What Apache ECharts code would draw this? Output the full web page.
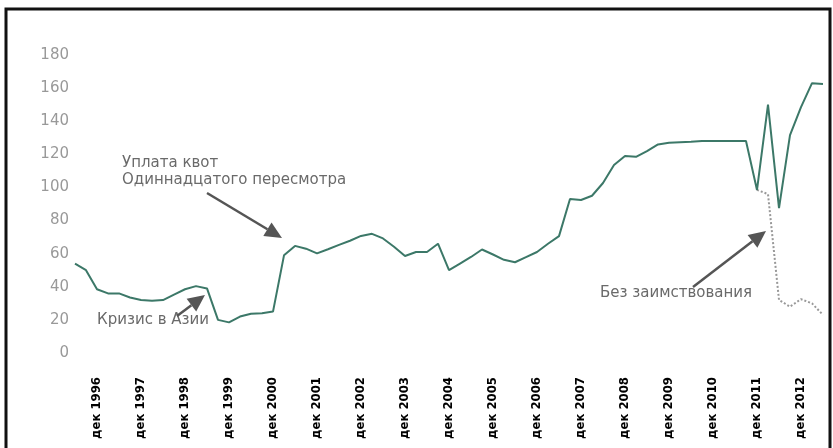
<!DOCTYPE html>
<html>
<head>
<meta charset="utf-8">
<script src="https://cdn.jsdelivr.net/npm/echarts@6/dist/echarts.min.js"></script>
<style>
  html, body { margin: 0; padding: 0; background: #fff; }
  #chart { width: 833px; height: 448px; }
</style>
</head>
<body>
<div id="chart"></div>
<script>
// Quarterly categories from June 1996 to June 2013
var years = [1996,1997,1998,1999,2000,2001,2002,2003,2004,2005,2006,2007,2008,2009,2010,2011,2012,2013];
var monthNames = ['мар','июн','сен','дек'];
var categories = [];
years.forEach(function (y) {
  monthNames.forEach(function (m, qi) {
    if (y === 1996 && qi < 1) return;
    if (y === 2013 && qi > 1) return;
    categories.push(m + ' ' + y);
  });
});

// Main series
var mainValues = [
  54, 50, 38.5,
  36, 36, 33.5, 32,
  31.5, 32, 35.3, 38.5,
  40.4, 39, 20, 18.5,
  22, 23.7, 24, 25,
  59, 64.7, 63, 60.2,
  62.7, 65.3, 67.8, 70.7,
  72, 69.2, 64.2, 58.6,
  61, 61, 66, 50,
  54, 58, 62.5, 59.5,
  56.3, 54.8, 57.9, 61,
  66, 70.6, 93, 92.4,
  95, 102.7, 113.5, 119,
  118.5, 122, 126, 127,
  127.3, 127.6, 128, 128,
  128, 128, 128, 98.5,
  150, 87.5, 131.6, 148.5,
  163, 162.5
];

// "Без заимствования" series (dotted), starts at Dec 2011
var noBorrowStart = 62;
var noBorrowValues = [98.5, 96, 32, 28, 32.5, 30, 23];

var yTicks = { min: 0, max: 180, interval: 20 };

var noBorrowData = categories.map(function (c, i) {
  var k = i - noBorrowStart;
  return (k >= 0 && k < noBorrowValues.length) ? noBorrowValues[k] : null;
});

function arrow(x1, y1, x2, y2) {
  var dx = x2 - x1, dy = y2 - y1;
  var len = Math.sqrt(dx * dx + dy * dy);
  var ux = dx / len, uy = dy / len;
  var hl = 17, hw = 8;
  var bx = x2 - ux * hl, by = y2 - uy * hl;
  var px = -uy, py = ux;
  return [
    { type: 'line', shape: { x1: x1, y1: y1, x2: bx, y2: by },
      style: { stroke: '#555', lineWidth: 2.5 } },
    { type: 'polygon', shape: { points: [[x2, y2], [bx + px * hw, by + py * hw], [bx - px * hw, by - py * hw]] },
      style: { fill: '#555' } }
  ];
}

var annFont = { fontFamily: 'DejaVu Sans', fontSize: 15, fill: '#6a6a6a' };

var graphics = [
  { type: 'rect', shape: { x: 6, y: 9, width: 824, height: 470 },
    style: { fill: 'none', stroke: '#111', lineWidth: 3 } },
  { type: 'text', left: 122, top: 155,
    style: Object.assign({ text: 'Уплата квот\nОдиннадцатого пересмотра', lineHeight: 17 }, annFont) },
  { type: 'text', left: 97, top: 313,
    style: Object.assign({ text: 'Кризис в Азии' }, annFont) },
  { type: 'text', left: 600, top: 286,
    style: Object.assign({ text: 'Без заимствования' }, annFont) }
].concat(arrow(207, 193, 282, 238))
 .concat(arrow(177, 316, 205, 295))
 .concat(arrow(693, 287, 766, 231));

var chart = echarts.init(document.getElementById('chart'));
chart.setOption({
  backgroundColor: '#fff',
  animation: false,
  grid: { left: 75, right: 10, top: 55, bottom: 95 },
  xAxis: {
    type: 'category',
    data: categories,
    boundaryGap: false,
    axisLine: { show: false },
    axisTick: { show: false },
    axisLabel: {
      rotate: 90,
      margin: 24,
      color: '#000',
      fontWeight: 'bold',
      fontFamily: "'Liberation Sans Narrow', 'DejaVu Sans Condensed', sans-serif",
      fontSize: 13,
      interval: function (idx, val) { return val.indexOf('дек') === 0; }
    },
    splitLine: { show: false }
  },
  yAxis: {
    type: 'value',
    min: yTicks.min,
    max: yTicks.max,
    interval: yTicks.interval,
    axisLine: { show: false },
    axisTick: { show: false },
    splitLine: { show: false },
    axisLabel: { color: '#999', fontFamily: 'DejaVu Sans', fontSize: 15, margin: 6 }
  },
  series: [
    {
      type: 'line',
      data: mainValues,
      symbol: 'none',
      lineStyle: { color: '#3c7868', width: 2 },
      z: 3
    },
    {
      type: 'line',
      data: noBorrowData,
      symbol: 'none',
      connectNulls: false,
      lineStyle: { color: '#999', width: 2, type: 'dotted' },
      z: 2
    }
  ],
  graphic: graphics
});
</script>
</body>
</html>
